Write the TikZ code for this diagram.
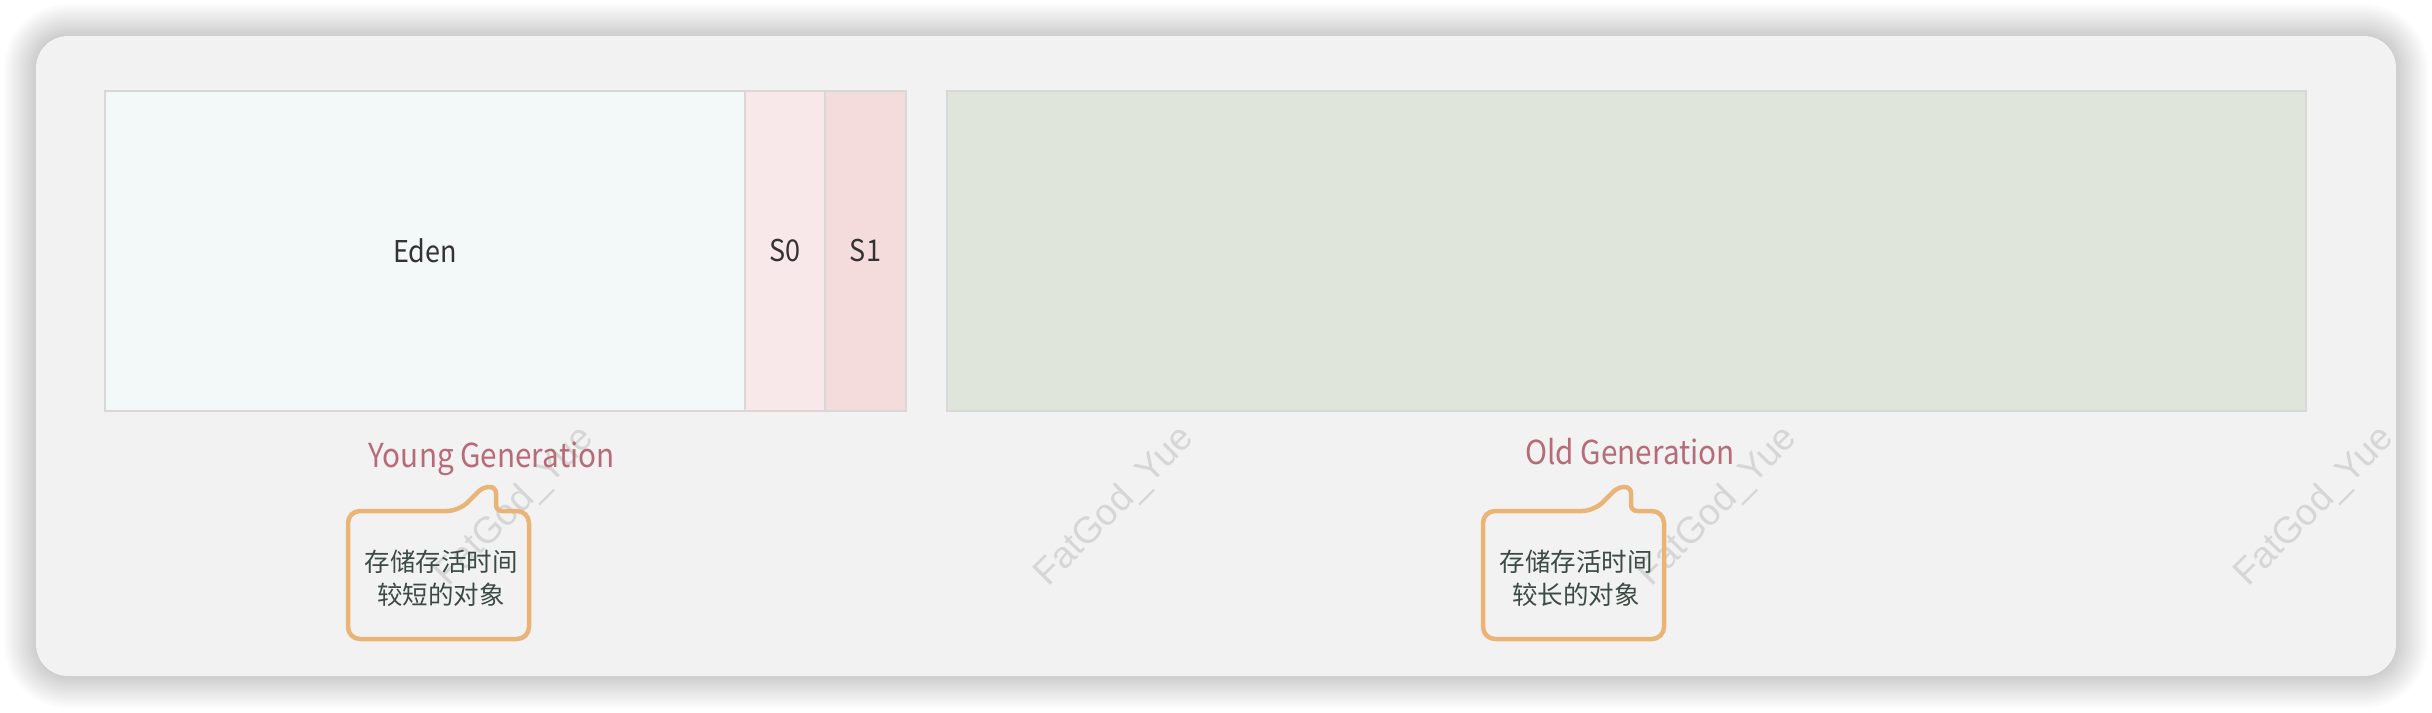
\documentclass[tikz,border=0pt]{standalone}
\usepackage{fontspec}
\setmainfont{Noto Sans CJK SC}
\newfontfamily\latinfont[FakeStretch=0.9]{Noto Sans CJK SC}
\newfontfamily\wmfont{Liberation Sans}
\usetikzlibrary{calc}
\definecolor{panel}{HTML}{F2F2F2}
\definecolor{edenfill}{HTML}{F3F8F8}
\definecolor{szerofill}{HTML}{F8E8EA}
\definecolor{sonefill}{HTML}{F4DCDC}
\definecolor{oldfill}{HTML}{DFE5DB}
\definecolor{boxline}{HTML}{DAD8D6}
\definecolor{txt}{HTML}{333333}
\definecolor{gencol}{HTML}{B76B78}
\definecolor{callcol}{HTML}{EAB476}
\definecolor{calltxt}{HTML}{3C4B44}
\definecolor{wmcol}{HTML}{D6D6D6}
\begin{document}
\begin{tikzpicture}[x=1pt,y=-1pt,
  region/.style={draw=boxline, line width=2pt, inner sep=0pt, minimum height=320pt, text=txt, font=\latinfont\fontsize{30}{36}\selectfont},
  genlabel/.style={text=gencol, font=\latinfont\fontsize{33}{40}\selectfont, inner sep=0pt, anchor=base},
  callout/.style={draw=callcol, line width=4.5pt, line join=round},
  calltext/.style={align=center, text=calltxt, font=\fontsize{25.5}{33}\selectfont, inner sep=0pt},
  wmark/.style={rotate=45, text=wmcol, font=\wmfont\fontsize{37}{40}\selectfont, inner sep=0pt}]
\useasboundingbox (0,0) rectangle (2432,712);
\fill[white] (0,0) rectangle (2432,712);
% soft shadow
\foreach \i in {1,...,16}{
  \pgfmathsetmacro\r{32+2*\i}
  \fill[black, opacity=0.010, rounded corners=\r pt] (36-2*\i,36-2*\i) rectangle (2396+2*\i,676+2*\i);
}
% panel
\fill[panel, rounded corners=32pt] (36,36) rectangle (2396,676);
% watermarks
\node[wmark] (wma) at (515,507) {FatGod\_Yue};
\node[wmark] (wmb) at (1115,507) {FatGod\_Yue};
\node[wmark] (wmc) at (1718,507) {FatGod\_Yue};
\node[wmark] (wmd) at (2315,507) {FatGod\_Yue};
% regions
\node[region, fill=edenfill, minimum width=640pt] (eden) at (425,251) {Eden};
\node[region, fill=szerofill, minimum width=80pt] (szero) at (785,251) {S0};
\node[region, fill=sonefill, minimum width=81pt] (sone) at (865.5,251) {S1};
\node[region, fill=oldfill, minimum width=1359pt] (old) at (1626.5,251) {};
% labels
\node[genlabel] (younglbl) at (491.5,467) {Young Generation};
\node[genlabel] (oldlbl) at (1630,464) {Old Generation};
% callouts
\draw[callout] (348,575) [rounded corners=12pt] -- (348,511) -- (459,511) [rounded corners=6pt] -- (483,487) -- (496,487) -- (496,511) [rounded corners=12pt] -- (529,511) -- (529,639) -- (348,639) -- cycle;
\draw[callout] (1483,575) [rounded corners=12pt] -- (1483,511) -- (1594,511) [rounded corners=6pt] -- (1618,487) -- (1631,487) -- (1631,511) [rounded corners=12pt] -- (1664,511) -- (1664,639) -- (1483,639) -- cycle;
\node[calltext] (youngnote) at (441,578) {存储存活时间\\较短的对象};
\node[calltext] (oldnote) at (1576,578) {存储存活时间\\较长的对象};
\end{tikzpicture}
\end{document}
